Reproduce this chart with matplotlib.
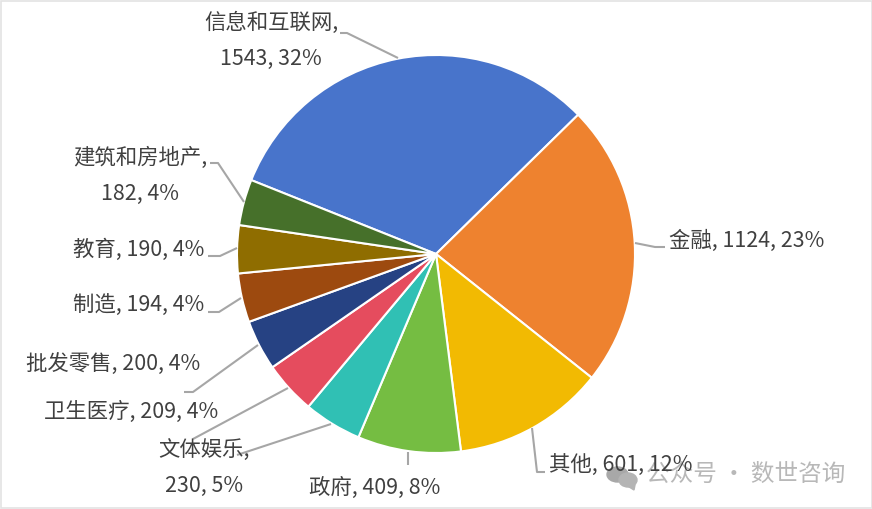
import matplotlib.pyplot as plt
from matplotlib.patches import Ellipse, Rectangle, Polygon

plt.rcParams['font.family'] = ['Noto Sans CJK SC', 'DejaVu Sans']

W, H = 872, 509

categories = ['信息和互联网', '金融', '其他', '政府', '文体娱乐',
              '卫生医疗', '批发零售', '制造', '教育', '建筑和房地产']
values = [1543, 1124, 601, 409, 230, 209, 200, 194, 190, 182]
percents = [32, 23, 12, 8, 5, 4, 4, 4, 4, 4]
colors = ['#4874CB', '#EE822F', '#F2BA02', '#75BD42', '#30C0B4',
          '#E54C5E', '#264283', '#9D4A0F', '#8F6D00', '#46702A']

# label layout in image pixels: centre x, centre y, wrapped onto two lines or not
label_pos = [(271, 41, True), (747, 241, False), (621, 465, False), (375, 488, False),
             (204, 468, True), (131, 412, False), (113, 365, False),
             (139, 306, False), (139, 250, False), (140, 176, True)]
# leader lines in image pixels
leaders = [[(398, 58), (347, 33), (340, 33)],
           [(635, 243), (655, 247), (665, 247)],
           [(532, 428), (537, 472), (545, 472)],
           [(408, 452), (408, 465)],
           [(331, 424), (237, 455)],
           [(288, 388), (193, 439)],
           [(258, 345), (193, 392), (184, 392)],
           [(241, 298), (219, 312), (208, 312)],
           [(237, 248), (220, 256), (208, 256)],
           [(244, 202), (218, 163), (210, 163)]]


def flip(pts):
    return [(x, H - y) for x, y in pts]


fig = plt.figure(figsize=(W / 100, H / 100), dpi=100)
ax = fig.add_axes([0, 0, 1, 1])

ax.pie(values, colors=colors, startangle=158.2, counterclock=False,
       center=(436, H - 254), radius=199, frame=True,
       wedgeprops={'edgecolor': 'white', 'linewidth': 1.5})
ax.set_xlim(0, W)
ax.set_ylim(0, H)
ax.set_aspect('auto')
ax.axis('off')

for pts in leaders:
    xs, ys = zip(*flip(pts))
    ax.plot(xs, ys, color='#A6A6A6', lw=1.5, zorder=3, solid_capstyle='butt')

# watermark sits under the labels
ax.text(746, H - 474, '公众号 · 数世咨询', ha='center', va='center', fontsize=17,
        color='#B8B8B8', zorder=4)
ax.add_patch(Ellipse((617.5, H - 474.5), 21, 15, color='#A8A8A8', zorder=4))
ax.add_patch(Ellipse((628, H - 480), 18, 14, color='#B4B4B4', zorder=4))
ax.add_patch(Polygon(flip([(626, 485), (635, 485), (634, 490)]), color='#B4B4B4', zorder=4))

for name, val, pct, (x, y, wrap) in zip(categories, values, percents, label_pos):
    sep = ',\n' if wrap else ', '
    ax.text(x, H - y, '{}{}{}, {}%'.format(name, sep, val, pct), ha='center', va='center',
            fontsize=15.4, color='#404040', linespacing=1.82, zorder=5)

# thin screenshot border
ax.add_patch(Rectangle((0.5, 1), W - 1, H - 1.5, fill=False, edgecolor='#E3E3E3', lw=1.2, zorder=6))

fig.savefig('out.png', dpi=100, facecolor='white')
